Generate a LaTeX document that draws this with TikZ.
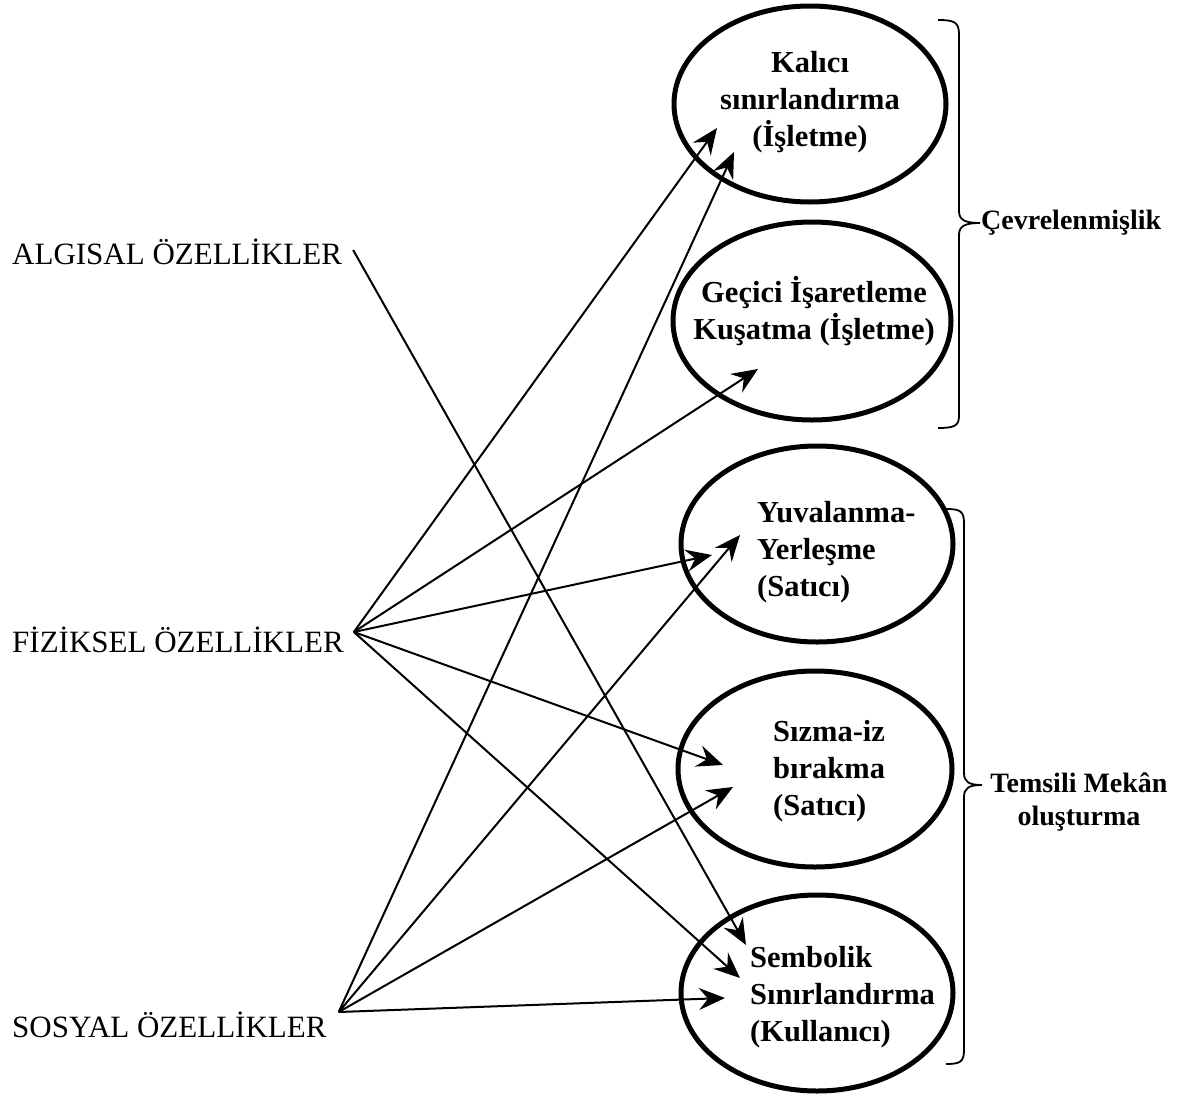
\documentclass[tikz,border=0pt]{standalone}
\usepackage{fontspec}
\setmainfont{Liberation Serif}
\usetikzlibrary{shapes.geometric,arrows.meta}
\tikzset{
  oval/.style={ellipse, draw, line width=5pt, minimum width=272pt, minimum height=196pt, inner sep=0pt},
  ovaltext/.style={font=\fontsize{30.5}{37}\selectfont\bfseries, inner sep=0pt},
  source/.style={font=\fontsize{31}{37}\selectfont, anchor=base west, inner sep=0pt},
  sidelabel/.style={font=\fontsize{28}{33}\selectfont\bfseries, inner sep=0pt},
  arrow/.style={line width=2pt, -{Stealth[length=26pt, width=22pt, inset=9pt]}},
  bracket/.style={line width=1.8pt}
}
\begin{document}
\begin{tikzpicture}[x=1pt,y=-1pt]
	\useasboundingbox (0,0) rectangle (1203,1095);

	% sol taraf
	\node[source] (algisal) at (12,264) {ALGISAL ÖZELLİKLER};
	\node[source] (fiziksel) at (12,652) {FİZİKSEL ÖZELLİKLER};
	\node[source] (sosyal) at (12,1037) {SOSYAL ÖZELLİKLER};
	\coordinate (algisalout) at ([shift={(11,-14)}]algisal.base east);
	\coordinate (fizikselout) at ([shift={(10,-20)}]fiziksel.base east);
	\coordinate (sosyalout) at ([shift={(12,-25)}]sosyal.base east);

	% elipsler
	\node[oval] (kalici) at (810,104) {};
	\node[oval, minimum width=278pt, minimum height=198pt] (gecici) at (812,321) {};
	\node[oval] (yuva) at (817,544) {};
	\node[oval, minimum width=274pt] (sizma) at (815,769) {};
	\node[oval] (sembolik) at (817,993) {};

	\node[ovaltext, align=center] (kalicitext) at (810,102) {Kalıcı\\sınırlandırma\\(İşletme)};
	\node[ovaltext, align=center] (gecicitext) at ([shift={(2,-10)}]gecici.center) {Geçici İşaretleme\\Kuşatma (İşletme)};
	\node[ovaltext, align=left, anchor=west] (yuvatext) at ([shift={(-60,8)}]yuva.center) {Yuvalanma-\\Yerleşme\\(Satıcı)};
	\node[ovaltext, align=left, anchor=west] (sizmatext) at ([shift={(-42,2)}]sizma.center) {Sızma-iz\\bırakma\\(Satıcı)};
	\node[ovaltext, align=left, anchor=west] (semboliktext) at ([shift={(-67,4)}]sembolik.center) {Sembolik\\Sınırlandırma\\(Kullanıcı)};

	% ok uclari
	\coordinate (kalici1) at ([shift={(-93,24)}]kalici.center);
	\coordinate (kalici2) at ([shift={(-76,48)}]kalici.center);
	\coordinate (gecici1) at ([shift={(-54,48)}]gecici.center);
	\coordinate (yuva1) at ([shift={(-105,11)}]yuva.center);
	\coordinate (yuva2) at ([shift={(-77,-9)}]yuva.center);
	\coordinate (sizma1) at ([shift={(-92,-4)}]sizma.center);
	\coordinate (sizma2) at ([shift={(-82,18)}]sizma.center);
	\coordinate (sembolik1) at ([shift={(-71,-48)}]sembolik.center);
	\coordinate (sembolik2) at ([shift={(-77,-15)}]sembolik.center);
	\coordinate (sembolik3) at ([shift={(-92,5)}]sembolik.center);

	\draw[arrow] (algisalout) -- (sembolik1);
	\foreach \t in {kalici1,gecici1,yuva1,sizma1,sembolik2}{
		\draw[arrow] (fizikselout) -- (\t);
		}
	\foreach \t in {kalici2,yuva2,sizma2,sembolik3}{
		\draw[arrow] (sosyalout) -- (\t);
		}

	% parantezler
	\draw[bracket] (938,20) .. controls (954,20) and (959,22) .. (959,34) -- (959,211) .. controls (959,220) and (965,223) .. (980,223) .. controls (965,223) and (959,226) .. (959,235) -- (959,416) .. controls (959,426) and (954,428) .. (938,428);
	\draw[bracket] (946,509) .. controls (960,509) and (964,511) .. (964,523) -- (964,773) .. controls (964,782) and (969,785) .. (982,785) .. controls (969,785) and (964,788) .. (964,797) -- (964,1050) .. controls (964,1062) and (960,1064) .. (946,1064);

	\node[sidelabel, anchor=west] (cevre) at (981,223) {Çevrelenmişlik};
	\node[sidelabel, align=center] (temsili) at (1079,802) {Temsili Mekân\\oluşturma};
\end{tikzpicture}
\end{document}
